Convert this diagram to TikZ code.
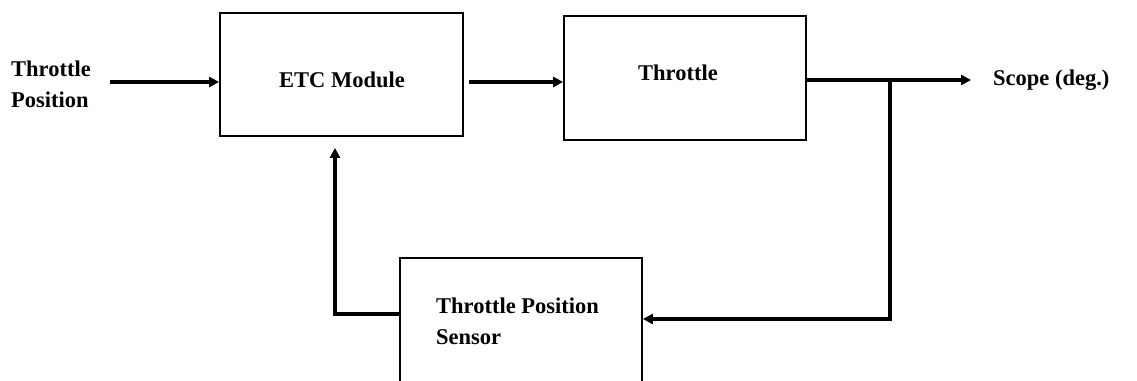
\documentclass[tikz,border=0pt]{standalone}
\usepackage{fontspec}
\setmainfont{Liberation Serif}
\usetikzlibrary{arrows.meta}
\begin{document}
\begin{tikzpicture}[x=1pt,y=-1pt,
  blk/.style={draw,line width=1.8pt,inner sep=0pt},
  lbl/.style={inner sep=0pt,font=\fontsize{22.5}{31}\selectfont\bfseries},
  sig/.style={line width=3.2pt,-{Triangle[length=10pt,width=10pt]}}]
\useasboundingbox (0,0) rectangle (1137,380);
\clip (0,0) rectangle (1137,380);
% blocks
\node[blk,minimum width=243pt,minimum height=123pt] (etc) at (341.5,74.5) {};
\node[blk,minimum width=242pt,minimum height=124pt] (thr) at (685,78) {};
\node[blk,minimum width=242pt,minimum height=128pt] (tps) at (521,322) {};
% block texts
\node[lbl] (etct) at (342,80) {ETC Module};
\node[lbl] (thrt) at (678,73) {Throttle};
\node[lbl,align=left,anchor=west] (tpst) at (436,321) {Throttle Position\\Sensor};
% outer labels
\node[lbl,align=left,anchor=west] (in) at (11,84) {Throttle\\Position};
\node[lbl,anchor=west] (out) at (993,80) {Scope (deg.)};
% rows of the forward path
\coordinate (row) at (0,82);
\coordinate (tap) at (890,80);
\coordinate (back) at (0,319);
\coordinate (up) at (335,314);
% signal path
\draw[sig] (110,82) -- (etc.west|-row);
\draw[sig] ([xshift=5pt]etc.east|-row) -- (thr.west|-row);
\draw[sig] (thr.east|-tap) -- ([xshift=-22pt]out.west|-tap);
% feedback loop
\draw[sig] (tap) -- (tap|-back) -- (tps.east|-back);
\draw[sig] (tps.west|-up) -- (up) -- ([yshift=-11pt]up|-etc.south);
\end{tikzpicture}
\end{document}
